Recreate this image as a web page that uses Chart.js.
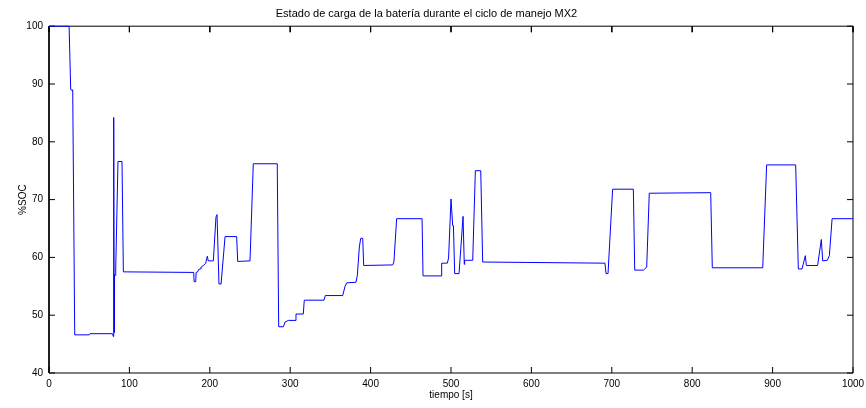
<!DOCTYPE html>
<html>
<head>
<meta charset="utf-8">
<script src="https://cdn.jsdelivr.net/npm/chart.js@4"></script>
<style>
  html, body { margin: 0; padding: 0; background: #fff; }
  #wrap { width: 866px; height: 408px; }
</style>
</head>
<body>
<div id="wrap"><canvas id="socChart" width="866" height="408"></canvas></div>
<script>
// tiempo [s] y %SOC
var tiempo = [0, 25, 27, 29, 29.5, 32, 50, 51, 79, 80, 80.5, 81, 81.5, 82.5, 83, 85.8, 90.8, 92.5,
  180, 180.5, 182.5, 183, 185, 186, 188, 189, 192, 195, 196, 197, 198, 204.4, 207.7, 209, 211.4, 214,
  219, 233.4, 234.7, 250, 254.1, 283.9, 285.7, 291.5, 293.5, 297.7, 306, 307.2, 316.3, 317.5, 342,
  343.7, 365.3, 368.2, 370.3, 381.8, 383.5, 386, 387.7, 390.2, 391.4, 427.5, 429, 432.4, 464, 465.2,
  487.6, 488.4, 495.4, 497, 500, 502.1, 503, 504.6, 510, 515, 516.5, 517, 527, 530.3, 537, 539.4,
  691.5, 692.8, 695.3, 701, 726.8, 728.5, 739.2, 743.4, 746.6, 823, 825, 887.7, 892.6, 928.7, 932,
  936.6, 940.7, 942, 956, 960.6, 962.3, 968, 970.6, 974, 1000];
var soc = [100, 100, 89, 88.9, 89, 46.6, 46.6, 46.8, 46.8, 46.3, 84.2, 47, 57, 56.9, 58, 76.6, 76.6, 57.5,
  57.4, 55.8, 55.8, 57.4, 57.5, 57.9, 58.0, 58.3, 58.6, 59.0, 59.8, 60.2, 59.4, 59.4, 67.0, 67.4, 55.4, 55.4,
  63.6, 63.6, 59.3, 59.4, 76.2, 76.2, 48.0, 48.0, 48.8, 49.1, 49.1, 50.2, 50.2, 52.6, 52.6,
  53.4, 53.4, 55.0, 55.6, 55.7, 56.9, 61.8, 63.3, 63.3, 58.6, 58.7, 59.2, 66.7, 66.7, 56.8,
  56.8, 59.0, 59.0, 59.9, 70.1, 65.5, 65.5, 57.2, 57.2, 67.1, 58.8, 59.5, 59.5, 75.0, 75.0, 59.2,
  59.0, 57.2, 57.2, 71.8, 71.8, 57.8, 57.8, 58.3, 71.1, 71.2, 58.2, 58.2, 76.0, 76.0, 58.0,
  58.0, 60.3, 58.6, 58.6, 63.1, 59.4, 59.5, 60.3, 66.7, 66.7];
var xTicks = [0, 100, 200, 300, 400, 500, 600, 700, 800, 900, 1000];
var yTicks = [40, 50, 60, 70, 80, 90, 100];

var puntos = [];
for (let i = 0; i < tiempo.length; i++) {
  puntos.push({ x: tiempo[i], y: soc[i] });
}

var fuente = "'Liberation Sans', Arial, Helvetica, sans-serif";
var xMin = xTicks[0], xMax = xTicks[xTicks.length - 1];
var yMin = yTicks[0], yMax = yTicks[yTicks.length - 1];

// caja tipo MATLAB con marcas hacia adentro (~6 px en un area de 804x347)
var dx = (xMax - xMin) * 6 / 804;
var dy = (yMax - yMin) * 6 / 347;
var caja = [
  { x: xMin, y: yMin }, { x: xMax, y: yMin }, { x: xMax, y: yMax }, { x: xMin, y: yMax }, { x: xMin, y: yMin }
];
var marcas = [];
for (let i = 0; i < xTicks.length; i++) {
  marcas.push({ x: xTicks[i], y: yMin }, { x: xTicks[i], y: yMin + dy }, { x: xTicks[i], y: null });
  marcas.push({ x: xTicks[i], y: yMax }, { x: xTicks[i], y: yMax - dy }, { x: xTicks[i], y: null });
}
for (let i = 0; i < yTicks.length; i++) {
  marcas.push({ x: xMin, y: yTicks[i] }, { x: xMin + dx, y: yTicks[i] }, { x: xMin, y: null });
  marcas.push({ x: xMax, y: yTicks[i] }, { x: xMax - dx, y: yTicks[i] }, { x: xMax, y: null });
}

new Chart("socChart", {
  type: "line",
  data: {
    datasets: [{
      data: puntos,
      borderColor: "#0000ff",
      borderWidth: 1,
      pointRadius: 0,
      tension: 0,
      fill: false,
      order: 0,
      clip: { left: 1, right: 1, top: 1, bottom: 1 }
    }, {
      data: caja,
      borderColor: "#000000",
      borderWidth: 1,
      pointRadius: 0,
      tension: 0,
      fill: false,
      order: 1,
      clip: false
    }, {
      data: marcas,
      borderColor: "#000000",
      borderWidth: 1,
      pointRadius: 0,
      tension: 0,
      fill: false,
      spanGaps: false,
      order: 2,
      clip: false
    }]
  },
  options: {
    responsive: false,
    animation: false,
    layout: { padding: { top: 0, right: 13, left: 0, bottom: 0 } },
    plugins: {
      legend: { display: false },
      tooltip: { enabled: false },
      title: {
        display: true,
        text: "Estado de carga de la batería durante el ciclo de manejo MX2",
        color: "#000",
        font: { family: fuente, size: 11, weight: "normal" },
        padding: { top: 7, bottom: 6 }
      }
    },
    scales: {
      x: {
        type: "linear",
        position: "bottom",
        min: xMin,
        max: xMax,
        ticks: {
          stepSize: 100,
          color: "#000", padding: 5, maxRotation: 0, autoSkip: false,
          font: { family: fuente, size: 10 },
          callback: function (v) { return String(v); }
        },
        afterFit: function (scale) { scale.height = 35; scale.paddingLeft = 0; scale.paddingRight = 0; },
        grid: { display: false, drawTicks: false },
        border: { display: false },
        title: {
          display: true,
          text: "tiempo [s]",
          color: "#000",
          font: { family: fuente, size: 10 },
          padding: { top: 7, bottom: 7 }
        }
      },
      y: {
        position: "left",
        min: yMin,
        max: yMax,
        ticks: {
          stepSize: 10,
          color: "#000", padding: 6, autoSkip: false,
          font: { family: fuente, size: 10 },
          callback: function (v) { return String(v); }
        },
        afterFit: function (scale) { scale.width = 49; },
        grid: { display: false, drawTicks: false },
        border: { display: false },
        title: {
          display: true,
          text: "%SOC",
          color: "#000",
          font: { family: fuente, size: 10 },
          padding: { top: 17, bottom: 17 }
        }
      }
    }
  }
});
</script>
</body>
</html>
